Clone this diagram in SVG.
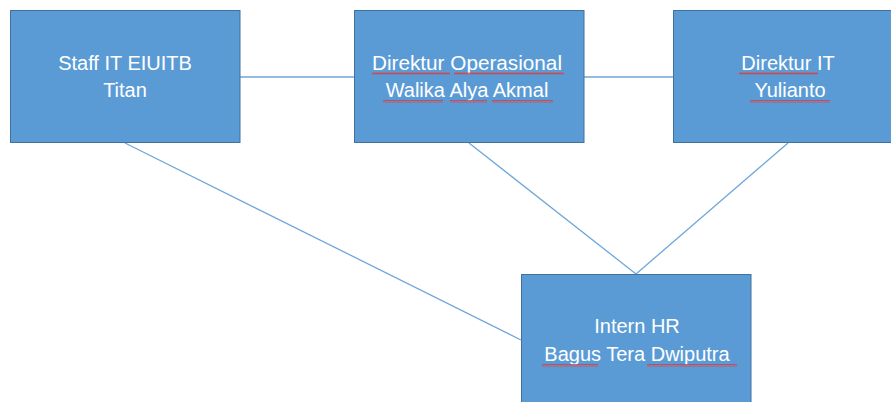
<svg xmlns="http://www.w3.org/2000/svg" width="891" height="402" viewBox="0 0 891 402">
<style>
.box{fill:#5B9BD5;stroke:#41719C;stroke-width:1}
.t{font-family:"Liberation Sans",Arial,sans-serif;font-size:20px;fill:#FFFFFF;text-anchor:middle}
.c{stroke:#6FA6DA;stroke-width:1.3;fill:none}
.sq{fill:url(#wave)}
</style>
<defs>
<pattern id="wave" width="4" height="3" patternUnits="userSpaceOnUse">
<path d="M0,2.5 L1,0.5 L2,2.5 L3,0.5 L4,2.5" stroke="#E03A3A" stroke-width="0.8" fill="none"/>
</pattern>
</defs>
<rect width="891" height="402" fill="#FFFFFF"/>
<g id="connectors">
<line class="c" x1="240" y1="77" x2="354" y2="77"/>
<line class="c" x1="584" y1="77" x2="673" y2="77"/>
<line class="c" x1="125" y1="143" x2="521" y2="340"/>
<line class="c" x1="469" y1="143" x2="636" y2="274"/>
<line class="c" x1="788" y1="143" x2="636" y2="274"/>
</g>
<g id="staff-it">
<rect class="box" x="10.5" y="10.5" width="229.5" height="132"/>
<text class="t" x="125" y="70">Staff IT EIUITB</text>
<text class="t" x="125" y="97">Titan</text>
</g>
<g id="direktur-operasional">
<rect class="box" x="354.5" y="10.5" width="229.5" height="132"/>
<text class="t" x="467" y="70" textLength="190" lengthAdjust="spacingAndGlyphs">Direktur Operasional</text>
<text class="t" x="467" y="97">Walika Alya Akmal</text>
<rect class="sq" x="372" y="72" width="78" height="3"/>
<rect class="sq" x="454" y="72" width="110" height="3"/>
<rect class="sq" x="383" y="100" width="60" height="3"/>
<rect class="sq" x="450" y="100" width="37" height="3"/>
<rect class="sq" x="492" y="100" width="61" height="3"/>
</g>
<g id="direktur-it">
<rect class="box" x="673.5" y="10.5" width="229.5" height="132"/>
<text class="t" x="788" y="70">Direktur IT</text>
<text class="t" x="790" y="97">Yulianto</text>
<rect class="sq" x="739" y="72" width="79" height="3"/>
<rect class="sq" x="750" y="100" width="80" height="3"/>
</g>
<g id="intern-hr">
<rect class="box" x="521.5" y="274.5" width="229.5" height="132"/>
<text class="t" x="637" y="333">Intern HR</text>
<text class="t" x="637" y="361">Bagus Tera Dwiputra</text>
<rect class="sq" x="542" y="364" width="56" height="3"/>
<rect class="sq" x="647" y="364" width="90" height="3"/>
</g>
</svg>
